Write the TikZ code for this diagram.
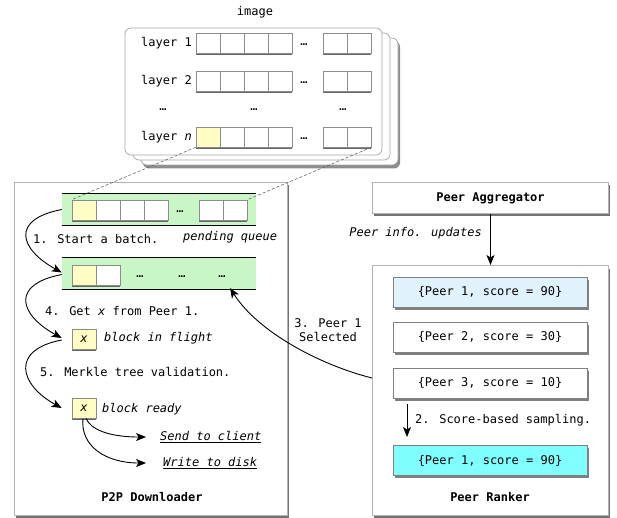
\documentclass[tikz,border=0pt]{standalone}
\usepackage{fontspec}
\setmainfont{DejaVu Sans Mono}
\usetikzlibrary{arrows.meta,shadows,calc}

\definecolor{bandgreen}{RGB}{201,246,197}
\definecolor{hiyellow}{RGB}{255,252,196}
\definecolor{paleblue}{RGB}{224,242,252}
\definecolor{brightcyan}{RGB}{128,255,255}

\begin{document}
\begin{tikzpicture}[x=1pt,y=-1pt,
  every node/.style={font=\fontsize{12}{14}\selectfont},
  card/.style={draw=black!35, fill=white, rounded corners=6pt, line width=0.7pt},
  cellbox/.style={draw=black!45, fill=white, minimum width=24pt, minimum height=20pt,
    inner sep=0pt, line width=0.6pt,
    general shadow={fill=black!60, shadow yshift=-2pt, shadow xshift=0.4pt}},
  band/.style={fill=bandgreen, minimum width=194pt, minimum height=31pt, inner sep=0pt},
  bigbox/.style={draw=black!30, fill=white, line width=1pt, inner sep=0pt,
    general shadow={fill=black!55, shadow xshift=1.2pt, shadow yshift=-3pt}},
  entry/.style={draw=black!50, fill=white, minimum width=194pt, minimum height=30pt,
    line width=0.6pt, inner sep=0pt,
    general shadow={fill=black!50, shadow xshift=2pt, shadow yshift=-2.5pt}},
  arr/.style={-{Stealth[length=10pt,width=8pt,inset=2.5pt]}, line width=0.9pt},
  txt/.style={inner sep=0pt},
  loop step/.style={arr},
]
\useasboundingbox (0,0) rectangle (617,518);

% ---------- image: stack of layer cards ----------
\node[txt] (imgtitle) at (255,12) {image};
\fill[black!45, rounded corners=6pt] (143,41) rectangle (400,168.5);
\foreach \d in {16,8,0}
  \draw[card] (125+\d,28+\d*0.625) rectangle (382+\d,155+\d*0.625);

% layer rows
\node[txt, anchor=east] (lab1) at (192,43) {layer 1};
\node[txt, anchor=east] (lab2) at (192,81) {layer 2};
\node[txt, anchor=east] (lab3) at (192,137) {layer \textit{n}};
\foreach \r/\yy in {1/43,2/81} {
  \foreach \i/\cx in {1/208,2/232,3/256,4/280,5/335,6/359}
    \node[cellbox] (L\r c\i) at (\cx,\yy) {};
  \node[txt] (L\r dots) at (304,\yy+2) {…};
}
\node[cellbox, fill=hiyellow] (L3c1) at (208,137) {};
\foreach \i/\cx in {2/232,3/256,4/280,5/335,6/359}
  \node[cellbox] (L3c\i) at (\cx,137) {};
\node[txt] (L3dots) at (304,139) {…};
\node[txt] (vd1) at (163,110) {…};
\node[txt] (vd2) at (254,110) {…};
\node[txt] (vd3) at (343,110) {…};

% ---------- P2P Downloader ----------
\node[bigbox, minimum width=273pt, minimum height=333pt, anchor=north west] (p2p) at (14,182) {};
\node[txt, font=\fontsize{12}{14}\selectfont\bfseries] (p2plab) at (152,497) {P2P Downloader};

% pending queue band
\node[band] (q1) at (159,209.5) {};
\draw[line width=1pt] (q1.north west) -- (q1.north east);
\draw[line width=1pt] (q1.south west) -- (q1.south east);
\node[cellbox, fill=hiyellow] (Q1c1) at (84,210) {};
\foreach \i/\cx in {2/108,3/132,4/156,5/211,6/235}
  \node[cellbox] (Q1c\i) at (\cx,210) {};
\node[txt] (Q1dots) at (180,212) {…};

% dashed projection lines from layer n
\draw[dashed, dash pattern=on 3pt off 2pt, black!60, line width=0.6pt] (L3c1.south west) -- (Q1c1.north west);
\draw[dashed, dash pattern=on 3pt off 2pt, black!60, line width=0.6pt] (L3c6.south east) -- (Q1c6.north east);

\node[txt, anchor=west] (step1) at (33,239) {1. Start a batch.};
\node[txt, anchor=west] (pendlab) at (183,237) {\itshape pending queue};

% batch band
\node[band] (q2) at (159,273.5) {};
\draw[line width=1pt] (q2.north west) -- (q2.north east);
\draw[line width=1pt] (q2.south west) -- (q2.south east);
\node[cellbox, fill=hiyellow] (Q2c1) at (84,275) {};
\node[cellbox] (Q2c2) at (108,275) {};
\node[txt] (Q2d1) at (140,277) {…};
\node[txt] (Q2d2) at (182,277) {…};
\node[txt] (Q2d3) at (222,277) {…};

\node[txt, anchor=west] (step4) at (45,311) {4. Get \textit{x} from Peer 1.};

% block in flight
\node[cellbox, fill=hiyellow] (flight) at (84,339) {\itshape x};
\node[txt, anchor=west] (flightlab) at (104,338) {\itshape block in flight};

\node[txt, anchor=west] (step5) at (40,372) {5. Merkle tree validation.};

% block ready
\node[cellbox, fill=hiyellow] (ready) at (84,408) {\itshape x};
\node[txt, anchor=west] (readylab) at (102,409) {\itshape block ready};

\node[anchor=west, inner ysep=0pt, inner xsep=0pt] (send) at (160,437) {\itshape\underline{Send to client}};
\node[anchor=west, inner ysep=0pt, inner xsep=0pt] (disk) at (163,463) {\itshape\underline{Write to disk}};
\coordinate (sendtip) at (146,437);
\coordinate (disktip) at (146,463);

% workflow arrows on the left
\coordinate (q1out) at (q1.west);
\coordinate (q2in) at ($(q2.west)+(0,-1)$);
\coordinate (q2out) at ($(q2.west)+(0,1)$);
\coordinate (flightin) at ($(flight.west)+(-10,-1)$);
\coordinate (flightout) at ($(flight.west)+(-10,1)$);
\coordinate (readyin) at ($(ready.west)+(-10,0)$);
\draw[loop step] (q1out) .. controls +(-52,10) and +(-42,-23) .. (q2in);
\draw[loop step] (q2out) .. controls +(-52,10) and +(-42,-23) .. (flightin);
\draw[loop step] (flightout) .. controls +(-52,10) and +(-42,-23) .. (readyin);
\draw[arr] ([xshift=2pt]ready.south) .. controls +(6,14) and +(-30,0) .. (sendtip);
\draw[arr] ([xshift=-1pt]ready.south) .. controls +(-3,28) and +(-40,0) .. (disktip);

% ---------- Peer Aggregator / Peer Ranker ----------
\node[bigbox, minimum width=236pt, minimum height=31pt, anchor=north west] (agg) at (372,182) {};
\node[txt, font=\fontsize{12}{14}\selectfont\bfseries] (agglab) at (agg.center) {Peer Aggregator};

\node[bigbox, minimum width=236pt, minimum height=250pt, anchor=north west] (rank) at (372,265) {};
\node[txt, font=\fontsize{12}{14}\selectfont\bfseries] (ranklab) at (490,497) {Peer Ranker};

\draw[arr] (agg.south) -- (rank.north);
\node[txt, anchor=east] (infolab) at (482,233) {\itshape Peer info. updates};

\node[entry, fill=paleblue] (e1) at (490,292) {\{Peer 1, score = 90\}};
\node[entry] (e2) at (490,337) {\{Peer 2, score = 30\}};
\node[entry] (e3) at (490,383) {\{Peer 3, score = 10\}};
\node[entry, fill=brightcyan] (e4) at (490,460.5) {\{Peer 1, score = 90\}};

\coordinate (samptop) at (407,404);
\coordinate (sampbot) at (407,437);
\draw[arr] (samptop) -- (sampbot);
\node[txt, anchor=west] (samplab) at (415,420) {2. Score-based sampling.};

% peer selection feeding the batch
\coordinate (selfrom) at (372,378);
\coordinate (seltip) at (230,288);
\draw[arr] (selfrom) .. controls (320,365) and (258,332) .. (seltip);
\node[txt, align=center] (sellab) at (328,330.5) {3. Peer 1\\Selected};
\end{tikzpicture}
\end{document}
